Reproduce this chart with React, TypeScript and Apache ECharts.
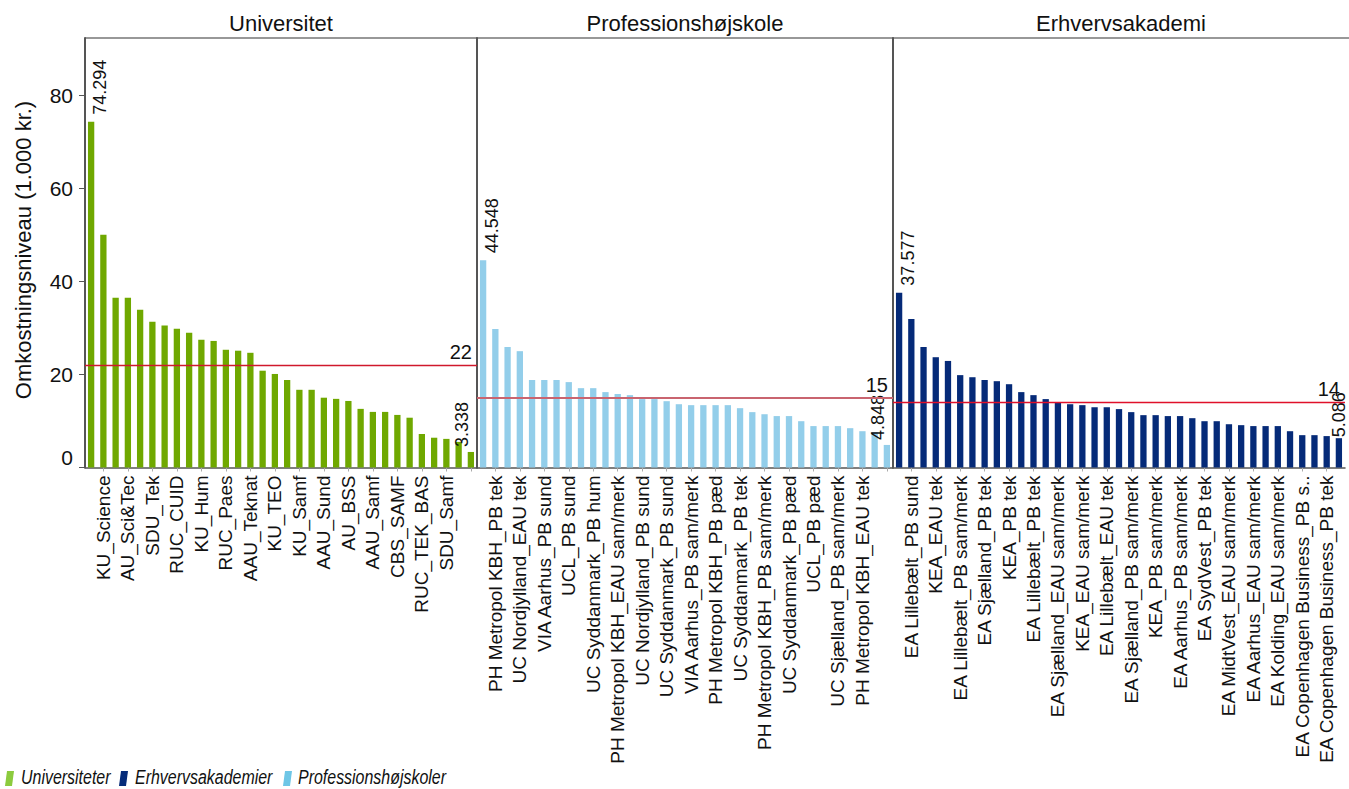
import React, { useEffect, useRef } from "react";
import * as echarts from "echarts";

// ---------- DATA ----------
const panelTitles = ["Universitet", "Professionshøjskole", "Erhvervsakademi"];

const uniCategories = [
  "", "KU_Science", "", "AU_Sci&Tec", "", "SDU_Tek", "", "RUC_CUID", "", "KU_Hum",
  "", "RUC_Paes", "", "AAU_Teknat", "", "KU_TEO", "", "KU_Samf", "", "AAU_Sund",
  "", "AU_BSS", "", "AAU_Samf", "", "CBS_SAMF", "", "RUC_TEK_BAS", "", "SDU_Samf",
  "", "",
];
const uniValues = [
  74.294, 50.0, 36.5, 36.5, 33.9, 31.3, 30.5, 29.8, 28.95, 27.45,
  27.2, 25.3, 25.1, 24.65, 20.8, 20.1, 18.8, 16.7, 16.7, 15.0,
  14.75, 14.3, 12.6, 11.95, 11.95, 11.3, 10.7, 7.2, 6.4, 6.15,
  5.5, 3.338,
];

const phCategories = [
  "", "PH Metropol KBH_PB tek", "", "UC Nordjylland_EAU tek", "", "VIA Aarhus_PB sund",
  "", "UCL_PB sund", "", "UC Syddanmark_PB hum", "", "PH Metropol KBH_EAU sam/merk",
  "", "UC Nordjylland_PB sund", "", "UC Syddanmark_PB sund", "", "VIA Aarhus_PB sam/merk",
  "", "PH Metropol KBH_PB pæd", "", "UC Syddanmark_PB tek", "", "PH Metropol KBH_PB sam/merk",
  "", "UC Syddanmark_PB pæd", "", "UCL_PB pæd", "", "UC Sjælland_PB sam/merk",
  "", "PH Metropol KBH_EAU tek", "", "",
];
const phValues = [
  44.548, 29.75, 25.9, 25.0, 18.8, 18.8, 18.8, 18.35, 17.05, 17.05,
  16.2, 15.8, 15.55, 14.7, 14.7, 14.25, 13.6, 13.4, 13.4, 13.4,
  13.4, 12.75, 11.9, 11.45, 11.05, 11.05, 9.95, 8.9, 8.9, 8.9,
  8.45, 7.8, 7.6, 4.848,
];

const eaCategories = [
  "", "EA Lillebælt_PB sund", "", "KEA_EAU tek", "", "EA Lillebælt_PB sam/merk",
  "", "EA Sjælland_PB tek", "", "KEA_PB tek", "", "EA Lillebælt_PB tek",
  "", "EA Sjælland_EAU sam/merk", "", "KEA_EAU sam/merk", "", "EA Lillebælt_EAU tek",
  "", "EA Sjælland_PB sam/merk", "", "KEA_PB sam/merk", "", "EA Aarhus_PB sam/merk",
  "", "EA SydVest_PB tek", "", "EA MidtVest_EAU sam/merk", "", "EA Aarhus_EAU sam/merk",
  "", "EA Kolding_EAU sam/merk", "", "EA Copenhagen Business_PB s..", "", "EA Copenhagen Business_PB tek",
  "",
];
const eaValues = [
  37.577, 31.9, 25.9, 23.7, 22.9, 19.85, 19.4, 18.8, 18.55, 17.9,
  16.2, 15.55, 14.7, 14.05, 13.6, 13.4, 12.95, 12.95, 12.55, 11.9,
  11.25, 11.25, 11.05, 11.05, 10.6, 9.95, 9.95, 9.3, 9.1, 8.9,
  8.9, 8.9, 7.8, 6.95, 6.95, 6.75, 6.3,
];

const averages = [22, 15, 14];
const peakLabels = ["74.294", "44.548", "37.577"];
const lowLabels = ["3.338", "4.848", "5.086"];

const yTicks = [0, 20, 40, 60, 80];
const yAxisTitle = "Omkostningsniveau (1.000 kr.)";
const legendNames = ["Universiteter", "Erhvervsakademier", "Professionshøjskoler"];

// ---------- STYLE ----------
const FONT = "'Liberation Sans', Arial, Helvetica, sans-serif";
const barColors = ["#6FA800", "#93CEEA", "#052A78"];
const avgLineStyles = [
  { color: "#D0182C", width: 1.3 },
  { color: "#C9646F", width: 2 },
  { color: "#E0102A", width: 1.3 },
];
const legendColors = ["#8CCB3E", "#062C7A", "#6EC6E6"];
const GRID_TOP = 38;
const GRID_HEIGHT = 429.5;
const Y_MAX = 92.3;
const grids = [
  { left: 85, width: 392 },
  { left: 477, width: 416 },
  { left: 893, width: 452 },
];
// low label placement: side of bar (bottom = to the left, middle = centred)
const lowSide = ["bottom", "bottom", "middle"];
const lowDistance = [5, 5, 1];

export default function App() {
  const ref = useRef<HTMLDivElement>(null);

  useEffect(() => {
    if (!ref.current) return;
    const chart = echarts.init(ref.current, undefined, { renderer: "svg" });

    const cats = [uniCategories, phCategories, eaCategories];
    const vals = [uniValues, phValues, eaValues];

    const xAxis = cats.map((c, i) => ({
      type: "category",
      gridIndex: i,
      data: c,
      boundaryGap: true,
      axisLine: { show: true, lineStyle: { color: "#555", width: 1.5 } },
      axisTick: {
        show: true,
        alignWithLabel: true,
        interval: (idx: number) => idx % 2 === 1,
        length: 4,
        lineStyle: { color: "#aaa" },
      },
      axisLabel: {
        interval: 0,
        rotate: 90,
        margin: 8,
        fontSize: 19,
        color: "#111",
        fontFamily: FONT,
      },
      splitLine: { show: false },
    }));

    const yAxis = [0, 1, 2].map((i) => ({
      type: "value",
      gridIndex: i,
      min: 0,
      max: Y_MAX,
      interval: 20,
      splitLine: { show: false },
      axisLine: { show: true, lineStyle: { color: "#555", width: 2 } },
      axisTick:
        i === 0
          ? { show: true, length: 6, customValues: yTicks, lineStyle: { color: "#555" } }
          : { show: false },
      axisLabel:
        i === 0
          ? {
              show: true,
              customValues: yTicks,
              fontSize: 21,
              margin: 12,
              color: "#111",
              fontFamily: FONT,
              verticalAlignMinLabel: "bottom",
            }
          : { show: false },
    }));

    const series = vals.map((v, i) => ({
      type: "bar",
      xAxisIndex: i,
      yAxisIndex: i,
      barWidth: 6.3,
      itemStyle: { color: barColors[i] },
      data: v.map((val, j) => {
        if (j === 0) {
          return {
            value: val,
            label: {
              show: true,
              position: "top",
              distance: 7,
              rotate: 90,
              align: "left",
              verticalAlign: "top",
              fontSize: 18,
              color: "#111",
              fontFamily: FONT,
              formatter: () => peakLabels[i],
            },
          };
        }
        if (j === v.length - 1) {
          return {
            value: val,
            label: {
              show: true,
              position: "top",
              distance: lowDistance[i],
              rotate: 90,
              align: "left",
              verticalAlign: lowSide[i],
              fontSize: 18,
              color: "#111",
              fontFamily: FONT,
              formatter: () => lowLabels[i],
            },
          };
        }
        return val;
      }),
      markLine: {
        silent: true,
        symbol: ["none", "none"],
        lineStyle: { type: "solid", opacity: 1, ...avgLineStyles[i] },
        label: {
          show: true,
          position: "insideEndTop",
          formatter: () => String(averages[i]),
          color: "#111",
          fontSize: 20,
          fontFamily: FONT,
          distance: [5, 3],
        },
        data: [{ yAxis: averages[i] }],
      },
    }));

    const graphic: any[] = [];
    // top border
    graphic.push({
      type: "line",
      shape: { x1: 85, y1: GRID_TOP, x2: 1349, y2: GRID_TOP },
      style: { stroke: "#333", lineWidth: 1.2 },
      silent: true,
    });
    // panel titles
    grids.forEach((g, i) => {
      const right = i === 2 ? 1349 : g.left + g.width;
      graphic.push({
        type: "text",
        x: (g.left + right) / 2,
        y: 23,
        style: {
          text: panelTitles[i],
          fontSize: 22,
          fontFamily: FONT,
          fill: "#111",
          align: "center",
          verticalAlign: "middle",
          textAlign: "center",
          textVerticalAlign: "middle",
        },
      });
    });
    // y-axis title
    graphic.push({
      type: "text",
      x: 23,
      y: 250,
      rotation: Math.PI / 2,
      style: {
        text: yAxisTitle,
        fontSize: 22,
        fontFamily: FONT,
        fill: "#111",
        align: "center",
        verticalAlign: "middle",
        textAlign: "center",
        textVerticalAlign: "middle",
      },
    });
    // legend
    const legendSquareX = [5, 119, 283];
    const legendTextX = [21, 135, 298];
    legendNames.forEach((name, i) => {
      const x0 = legendSquareX[i];
      graphic.push({
        type: "polygon",
        shape: {
          points: [
            [x0, 786],
            [x0 + 7, 786],
            [x0 + 9, 771],
            [x0 + 2, 771],
          ],
        },
        style: { fill: legendColors[i] },
      });
      graphic.push({
        type: "text",
        x: legendTextX[i],
        y: 777,
        scaleX: 0.76,
        style: {
          text: name,
          fontSize: 21,
          fontStyle: "italic",
          fontFamily: FONT,
          fill: "#111",
          align: "left",
          verticalAlign: "middle",
          textAlign: "left",
          textVerticalAlign: "middle",
        },
      });
    });

    chart.setOption({
      animation: false,
      textStyle: { fontFamily: FONT },
      grid: grids.map((g) => ({
        left: g.left,
        width: g.width,
        top: GRID_TOP,
        height: GRID_HEIGHT,
        containLabel: false,
      })),
      xAxis,
      yAxis,
      series,
      graphic,
    });

    return () => chart.dispose();
  }, []);

  return (
    <div
      ref={ref}
      style={{ position: "fixed", left: 0, top: 0, width: 1349, height: 789, background: "#fff" }}
    />
  );
}
